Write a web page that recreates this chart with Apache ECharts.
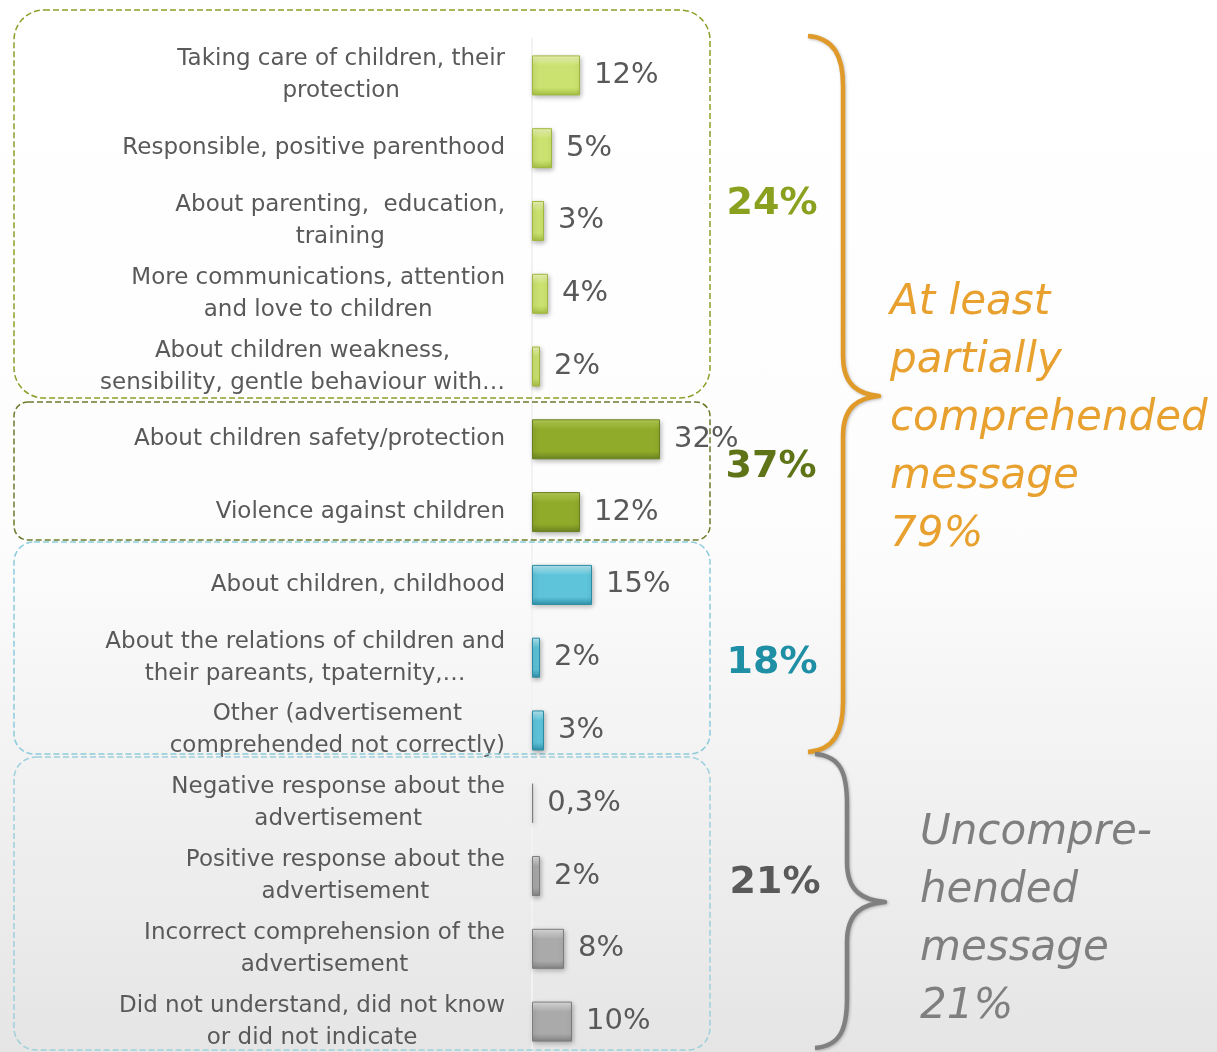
<!DOCTYPE html>
<html>
<head>
<meta charset="utf-8">
<script src="https://cdn.jsdelivr.net/npm/echarts@6/dist/echarts.min.js"></script>
<style>
  html, body { margin: 0; padding: 0; }
  #main {
    width: 1217px; height: 1052px;
    background: linear-gradient(to bottom, #ffffff 0%, #fdfdfd 50%, #e5e5e5 100%);
  }
</style>
</head>
<body>
<div id="main"></div>
<script>
const categories = [
  'Taking care of children, their\nprotection',
  'Responsible, positive parenthood',
  'About parenting,  education,\ntraining',
  'More communications, attention\nand love to children',
  'About children weakness,\nsensibility, gentle behaviour with…',
  'About children safety/protection',
  'Violence against children',
  'About children, childhood',
  'About the relations of children and\ntheir pareants, tpaternity,…',
  'Other (advertisement\ncomprehended not correctly)',
  'Negative response about the\nadvertisement',
  'Positive response about the\nadvertisement',
  'Incorrect comprehension of the\nadvertisement',
  'Did not understand, did not know\nor did not indicate'
]
const values = [12, 5, 3, 4, 2, 32, 12, 15, 2, 3, 0.3, 2, 8, 10]
const groups = [0, 0, 0, 0, 0, 1, 1, 2, 2, 2, 3, 3, 3, 3]
const groupTotals = ['24%', '37%', '18%', '21%']

// bevel-like colours per group: top, base, bottom, border
const palettes = [
  ['#eef8bc', '#cbe270', '#a8c244', '#a0b83c'],
  ['#b8d058', '#90aa2a', '#6c8420', '#6a8020'],
  ['#b8eaf4', '#5ec4da', '#2f93ab', '#2a8ca4'],
  ['#e0e0e0', '#aaaaaa', '#848484', '#7c7c7c']
]

const barData = values.map((v, i) => {
  const p = palettes[groups[i]]
  return {
    value: v,
    itemStyle: {
      color: {
        type: 'linear', x: 0, y: 0, x2: 0, y2: 1,
        colorStops: [
          { offset: 0, color: p[0] },
          { offset: 0.25, color: p[1] },
          { offset: 0.8, color: p[1] },
          { offset: 1, color: p[2] }
        ]
      },
      borderColor: p[3],
      borderWidth: 1
    }
  }
})

// curly brace as one path so the shadow stays clean
echarts.graphic.registerShape('brace', echarts.graphic.extendShape({
  shape: { xEnd: 0, xMid: 0, xTip: 0, yTop: 0, yTip: 0, yBot: 0 },
  buildPath (ctx, s) {
    const c = 50
    ctx.moveTo(s.xEnd, s.yTop)
    ctx.bezierCurveTo(s.xEnd + 26, s.yTop + 2, s.xMid, s.yTop + 20, s.xMid, s.yTop + c)
    ctx.lineTo(s.xMid, s.yTip - 40)
    ctx.bezierCurveTo(s.xMid, s.yTip - 10, s.xMid + 16, s.yTip - 2, s.xTip, s.yTip)
    ctx.bezierCurveTo(s.xMid + 16, s.yTip + 2, s.xMid, s.yTip + 10, s.xMid, s.yTip + 40)
    ctx.lineTo(s.xMid, s.yBot - c)
    ctx.bezierCurveTo(s.xMid, s.yBot - 20, s.xEnd + 26, s.yBot - 2, s.xEnd, s.yBot)
  }
}))

const braceStyle = (color) => ({
  fill: 'none', stroke: color, lineWidth: 4.5, lineJoin: 'round',
  shadowBlur: 3, shadowColor: 'rgba(0,0,0,0.25)', shadowOffsetX: 1, shadowOffsetY: 1
})

const chart = echarts.init(document.getElementById('main'))

const option = {
  backgroundColor: 'transparent',
  animation: false,
  grid: {
    left: 532, right: 285, top: 39, bottom: -6,
    containLabel: false, outerBoundsMode: 'none'
  },
  xAxis: {
    type: 'value', min: 0, max: 100, show: false
  },
  yAxis: {
    type: 'category',
    data: categories,
    inverse: true,
    axisLine: { lineStyle: { color: '#f2f2f2', width: 2 } },
    axisTick: { length: 12, lineStyle: { color: '#eeeeee', width: 1 } },
    axisLabel: {
      margin: 27,
      color: '#595959',
      fontFamily: 'DejaVu Sans',
      fontSize: 23,
      lineHeight: 32,
      formatter: (v) => v.split('\n').map(l => '{c|' + l + '}').join('\n'),
      rich: {
        c: { align: 'center', color: '#595959', fontFamily: 'DejaVu Sans', fontSize: 23, lineHeight: 32 }
      }
    }
  },
  series: [
    {
      type: 'bar',
      data: barData,
      barWidth: 40,
      itemStyle: {
        shadowColor: 'rgba(0,0,0,0.3)',
        shadowBlur: 5,
        shadowOffsetX: 1,
        shadowOffsetY: 2
      },
      label: {
        show: true,
        position: 'right',
        distance: 14,
        color: '#595959',
        fontFamily: 'DejaVu Sans',
        fontSize: 29,
        formatter: (p) => String(p.value).replace('.', ',') + '%'
      },
      z: 3
    }
  ],
  graphic: [
    // dashed group boxes
    { type: 'rect', shape: { x: 14, y: 10, width: 696, height: 388, r: 30 }, style: { fill: 'none', stroke: '#8c9f2a', lineWidth: 1.5, lineDash: [6, 3] }, z: 1 },
    { type: 'rect', shape: { x: 14, y: 402, width: 696, height: 138, r: 14 }, style: { fill: 'none', stroke: '#6b7b2b', lineWidth: 1.5, lineDash: [6, 3] }, z: 1 },
    { type: 'rect', shape: { x: 14, y: 542, width: 696, height: 212, r: 20 }, style: { fill: 'none', stroke: '#8ccbdc', lineWidth: 1.5, lineDash: [6, 3] }, z: 1 },
    { type: 'rect', shape: { x: 14, y: 757, width: 696, height: 293, r: 22 }, style: { fill: 'none', stroke: '#a0d0dc', lineWidth: 1.5, lineDash: [6, 3] }, z: 1 },

    // group totals
    { type: 'text', x: 772, y: 204, style: { text: groupTotals[0], fill: '#8aa11f', font: 'bold 38px "DejaVu Sans"', align: 'center', verticalAlign: 'middle' }, z: 5 },
    { type: 'text', x: 771, y: 467, style: { text: groupTotals[1], fill: '#5e7417', font: 'bold 38px "DejaVu Sans"', align: 'center', verticalAlign: 'middle' }, z: 5 },
    { type: 'text', x: 772, y: 663, style: { text: groupTotals[2], fill: '#1e8fa5', font: 'bold 38px "DejaVu Sans"', align: 'center', verticalAlign: 'middle' }, z: 5 },
    { type: 'text', x: 775, y: 883, style: { text: groupTotals[3], fill: '#595959', font: 'bold 38px "DejaVu Sans"', align: 'center', verticalAlign: 'middle' }, z: 5 },

    // braces
    { type: 'brace', shape: { xEnd: 808, xMid: 843, xTip: 879, yTop: 36, yTip: 396, yBot: 752 }, style: braceStyle('#e09a2a'), z: 4 },
    { type: 'brace', shape: { xEnd: 815, xMid: 847, xTip: 885, yTop: 754, yTip: 902, yBot: 1048 }, style: braceStyle('#808080'), z: 4 },

    // summary texts
    { type: 'text', x: 890, y: 274, style: { text: 'At least\npartially\ncomprehended\nmessage\n79%', fill: '#e8a02e', font: 'italic 42px "DejaVu Sans"', lineHeight: 58, align: 'left', verticalAlign: 'top' }, z: 5 },
    { type: 'text', x: 920, y: 804, style: { text: 'Uncompre-\nhended\nmessage\n21%', fill: '#7f7f7f', font: 'italic 42px "DejaVu Sans"', lineHeight: 58, align: 'left', verticalAlign: 'top' }, z: 5 }
  ]
}

chart.setOption(option)
</script>
</body>
</html>
